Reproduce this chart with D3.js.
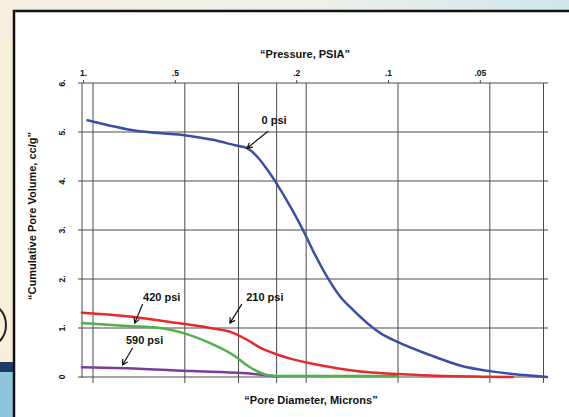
<!DOCTYPE html>
<html>
<head>
<meta charset="utf-8">
<script src="https://cdn.jsdelivr.net/npm/d3@7"></script>
<style>
  html, body { margin: 0; padding: 0; background: #fff; }
  svg text { font-family: "Liberation Sans", Arial, sans-serif; font-weight: bold; fill: #111; }
</style>
</head>
<body>
<script>
const width = 569;
const height = 417;

// Pore diameter (relative units, log) vs cumulative pore volume (cc/g)
const psi0Diam = [0.96, 1.4, 1.97, 2.47, 2.92, 3.2, 3.45, 3.72, 4.1, 4.49, 4.88, 5.34, 5.85, 6.45, 7.12, 8.73, 10, 12.7, 16.3, 20, 23.8, 30.8];
const psi0Vol = [5.24, 5.02, 4.94, 4.84, 4.73, 4.67, 4.5, 4.24, 3.84, 3.42, 3.0, 2.5, 2.05, 1.65, 1.37, 0.9, 0.71, 0.45, 0.22, 0.12, 0.06, 0.0];

const psi210Diam = [0.92, 1.29, 1.89, 2.42, 2.88, 3.2, 3.53, 4.01, 4.53, 5.15, 6.31, 7.91, 10, 12.7, 23.8];
const psi210Vol = [1.31, 1.24, 1.1, 1.0, 0.9, 0.76, 0.6, 0.46, 0.36, 0.28, 0.18, 0.1, 0.06, 0.03, 0.0];

const psi420Diam = [0.92, 1.29, 1.66, 1.97, 2.42, 2.88, 3.27, 3.72, 4.01, 10];
const psi420Vol = [1.1, 1.04, 1.0, 0.9, 0.69, 0.45, 0.2, 0.04, 0.02, 0.02];

const psi590Diam = [0.92, 1.29, 2.13, 3.1, 3.89, 4.01];
const psi590Vol = [0.2, 0.18, 0.12, 0.08, 0.02, 0.01];

const seriesNames = ['0 psi', '210 psi', '420 psi', '590 psi'];
const seriesColors = ['#3b4ea6', '#e52a2a', '#4fb04c', '#7a3d9e'];

// annotation arrow tips, in data units
const labelDiam = [3.2, 2.81, 1.37, 1.25];
const labelVol = [4.67, 1.1, 1.1, 0.245];

const diamGrid = [1, 2, 3, 4, 5, 10, 20, 30];
const pressureTicks = [1, 0.5, 0.2, 0.1, 0.05];
const pressureLabels = ['1.', '.5', '.2', '.1', '.05'];
const volTicks = [0, 1, 2, 3, 4, 5, 6];
const volLabels = ['0', '1.', '2.', '3.', '4.', '5.', '6.'];

let svg = d3.select('body').append('svg')
  .attr('width', width)
  .attr('height', height);

// background picture around the panel
let defs = svg.append('defs');
let topGrad = defs.append('linearGradient').attr('id', 'topGrad');
topGrad.append('stop').attr('offset', '0%').attr('stop-color', '#f4eedf');
topGrad.append('stop').attr('offset', '55%').attr('stop-color', '#eef0e8');
topGrad.append('stop').attr('offset', '100%').attr('stop-color', '#cfe6ef');
svg.append('rect').attr('width', width).attr('height', height).attr('fill', 'url(#topGrad)');
svg.append('rect').attr('x', 0).attr('y', 40).attr('width', 13).attr('height', 320).attr('fill', '#f7efd9');
svg.append('rect').attr('x', 0).attr('y', 362).attr('width', 13).attr('height', 10).attr('fill', '#1e3a66');
svg.append('rect').attr('x', 0).attr('y', 372).attr('width', 13).attr('height', 45).attr('fill', '#8fc6dc');
svg.append('circle').attr('cx', -18).attr('cy', 325).attr('r', 24)
  .attr('fill', 'none').attr('stroke', '#222').attr('stroke-width', 2);

// white panel
svg.append('rect').attr('x', 13).attr('y', 10).attr('width', width).attr('height', height)
  .attr('fill', '#fff');
svg.append('path').attr('d', `M14,${height}V11H${width}`)
  .attr('fill', 'none').attr('stroke', '#111').attr('stroke-width', 2.5);

let x = d3.scaleLog().domain([1, 10]).range([93, 398]);
let xP = d3.scaleLog().domain([1, 0.1]).range([83, 388]);
let y = d3.scaleLinear().domain([0, 6]).range([377, 83]);

let gridColor = '#4a4a4a';

// horizontal grid
svg.append('g').selectAll('line').data(volTicks).join('line')
  .attr('x1', 78).attr('x2', 548)
  .attr('y1', (d) => y(d)).attr('y2', (d) => y(d))
  .attr('stroke', gridColor).attr('stroke-width', 1);

// vertical grid
svg.append('g').selectAll('line').data(diamGrid).join('line')
  .attr('x1', (d) => x(d)).attr('x2', (d) => x(d))
  .attr('y1', y(6)).attr('y2', y(0) + 6)
  .attr('stroke', gridColor).attr('stroke-width', 1);

// left axis line
svg.append('line').attr('x1', 82).attr('x2', 82).attr('y1', y(6)).attr('y2', y(0) + 1)
  .attr('stroke', gridColor).attr('stroke-width', 1);

// top pressure axis
let topAxis = d3.axisTop(xP).tickValues(pressureTicks).tickSize(3).tickPadding(4)
  .tickFormat((d, i) => pressureLabels[i]);
let topG = svg.append('g').attr('transform', `translate(0, ${y(6)})`).call(topAxis);
topG.select('.domain').remove();
topG.selectAll('line').attr('stroke', gridColor);
topG.selectAll('text').style('font-size', '8.5px').attr('fill', '#111');

// left volume labels, rotated
svg.append('g').selectAll('text').data(volTicks).join('text')
  .attr('transform', (d) => `translate(65, ${y(d)}) rotate(-90)`)
  .attr('text-anchor', 'middle')
  .style('font-size', '8.5px')
  .text((d, i) => volLabels[i]);

// titles
svg.append('text').attr('x', 305).attr('y', 58).attr('text-anchor', 'middle')
  .style('font-size', '11px').text('“Pressure, PSIA”');
svg.append('text').attr('x', 311).attr('y', 404).attr('text-anchor', 'middle')
  .style('font-size', '11px').text('“Pore Diameter, Microns”');
svg.append('text').attr('transform', 'translate(36, 216) rotate(-90)').attr('text-anchor', 'middle')
  .style('font-size', '11px').text('“Cumulative Pore Volume, cc/g”');

// curves
let diams = [psi0Diam, psi210Diam, psi420Diam, psi590Diam];
let vols = [psi0Vol, psi210Vol, psi420Vol, psi590Vol];
let line = d3.line().x((d) => x(d[0])).y((d) => y(d[1])).curve(d3.curveMonotoneX);
let order = [3, 2, 1, 0];
svg.append('g').selectAll('path').data(order).join('path')
  .attr('d', (k) => line(diams[k].map((dv, i) => [dv, vols[k][i]])))
  .attr('fill', 'none')
  .attr('stroke', (k) => seriesColors[k])
  .attr('stroke-width', 2.5)
  .attr('stroke-linejoin', 'round')
  .attr('stroke-linecap', 'round');

// annotations: text offset and arrow start offset from tip (px)
const textOff = [[27, -24], [35, -22], [27, -22], [22, -21]];
const startOff = [[21, -17], [12, -19], [8, -19], [10, -17]];
let ann = svg.append('g');
seriesNames.forEach((name, i) => {
  let tx = x(labelDiam[i]);
  let ty = y(labelVol[i]);
  let sx = tx + startOff[i][0];
  let sy = ty + startOff[i][1];
  let ang = Math.atan2(ty - sy, tx - sx);
  let h = 6;
  let a1 = ang + Math.PI - 0.5;
  let a2 = ang + Math.PI + 0.5;
  ann.append('path')
    .attr('d', `M${sx},${sy}L${tx},${ty}M${tx + h * Math.cos(a1)},${ty + h * Math.sin(a1)}L${tx},${ty}L${tx + h * Math.cos(a2)},${ty + h * Math.sin(a2)}`)
    .attr('fill', 'none').attr('stroke', '#111').attr('stroke-width', 1.2);
  ann.append('text')
    .attr('x', tx + textOff[i][0]).attr('y', ty + textOff[i][1])
    .attr('text-anchor', 'middle')
    .style('font-size', '11px')
    .text(name);
});
</script>
</body>
</html>
